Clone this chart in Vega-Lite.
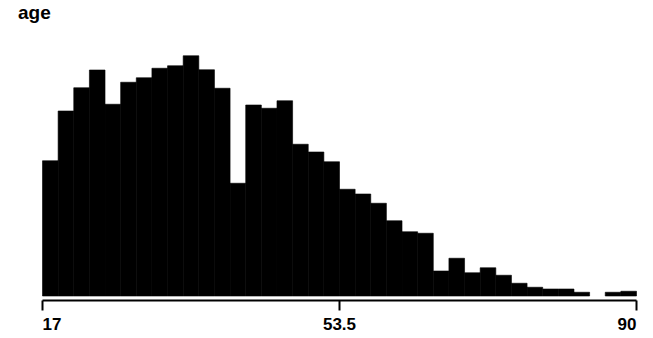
{
  "$schema": "https://vega.github.io/schema/vega-lite/v6.json",
  "autosize": "none",
  "width": 594,
  "height": 250,
  "padding": {"left": 42, "top": 46, "right": 17, "bottom": 42},
  "background": "white",
  "title": {
    "text": "age",
    "anchor": "start",
    "frame": "group",
    "dx": -24,
    "offset": 8,
    "baseline": "alphabetic",
    "font": "Liberation Sans",
    "fontSize": 19,
    "fontWeight": "bold",
    "color": "black"
  },
  "data": {
    "values": [
      {"bin_start": 17, "bin_end": 18.921, "count": 1082},
      {"bin_start": 18.921, "bin_end": 20.842, "count": 1480},
      {"bin_start": 20.842, "bin_end": 22.763, "count": 1666},
      {"bin_start": 22.763, "bin_end": 24.684, "count": 1808},
      {"bin_start": 24.684, "bin_end": 26.605, "count": 1534},
      {"bin_start": 26.605, "bin_end": 28.526, "count": 1710},
      {"bin_start": 28.526, "bin_end": 30.447, "count": 1746},
      {"bin_start": 30.447, "bin_end": 32.368, "count": 1822},
      {"bin_start": 32.368, "bin_end": 34.289, "count": 1842},
      {"bin_start": 34.289, "bin_end": 36.211, "count": 1922},
      {"bin_start": 36.211, "bin_end": 38.132, "count": 1810},
      {"bin_start": 38.132, "bin_end": 40.053, "count": 1662},
      {"bin_start": 40.053, "bin_end": 41.974, "count": 902},
      {"bin_start": 41.974, "bin_end": 43.895, "count": 1528},
      {"bin_start": 43.895, "bin_end": 45.816, "count": 1502},
      {"bin_start": 45.816, "bin_end": 47.737, "count": 1562},
      {"bin_start": 47.737, "bin_end": 49.658, "count": 1214},
      {"bin_start": 49.658, "bin_end": 51.579, "count": 1152},
      {"bin_start": 51.579, "bin_end": 53.5, "count": 1074},
      {"bin_start": 53.5, "bin_end": 55.421, "count": 854},
      {"bin_start": 55.421, "bin_end": 57.342, "count": 816},
      {"bin_start": 57.342, "bin_end": 59.263, "count": 742},
      {"bin_start": 59.263, "bin_end": 61.184, "count": 602},
      {"bin_start": 61.184, "bin_end": 63.105, "count": 514},
      {"bin_start": 63.105, "bin_end": 65.026, "count": 502},
      {"bin_start": 65.026, "bin_end": 66.947, "count": 200},
      {"bin_start": 66.947, "bin_end": 68.868, "count": 302},
      {"bin_start": 68.868, "bin_end": 70.789, "count": 186},
      {"bin_start": 70.789, "bin_end": 72.711, "count": 226},
      {"bin_start": 72.711, "bin_end": 74.632, "count": 166},
      {"bin_start": 74.632, "bin_end": 76.553, "count": 102},
      {"bin_start": 76.553, "bin_end": 78.474, "count": 70},
      {"bin_start": 78.474, "bin_end": 80.395, "count": 56},
      {"bin_start": 80.395, "bin_end": 82.316, "count": 56},
      {"bin_start": 82.316, "bin_end": 84.237, "count": 30},
      {"bin_start": 84.237, "bin_end": 86.158, "count": 0},
      {"bin_start": 86.158, "bin_end": 88.079, "count": 30},
      {"bin_start": 88.079, "bin_end": 90, "count": 38}
    ]
  },
  "mark": {"type": "bar", "color": "black", "stroke": "black", "strokeWidth": 0.6, "binSpacing": 0},
  "encoding": {
    "x": {
      "field": "bin_start",
      "type": "quantitative",
      "bin": "binned",
      "scale": {"domain": [17, 90], "nice": false, "zero": false},
      "axis": {
        "title": null,
        "values": [17, 53.5, 90],
        "labelExpr": "datum.value == 53.5 ? '53.5' : format(datum.value, 'd')",
        "grid": false,
        "offset": 4,
        "domainColor": "black",
        "domainWidth": 2,
        "tickColor": "black",
        "tickWidth": 2,
        "tickSize": 10,
        "labelFont": "Liberation Sans",
        "labelFontSize": 17,
        "labelFontWeight": "bold",
        "labelColor": "black",
        "labelPadding": 6,
        "labelFlush": true
      }
    },
    "x2": {"field": "bin_end"},
    "y": {
      "field": "count",
      "type": "quantitative",
      "scale": {"domain": [0, 2000], "nice": false},
      "axis": null
    },
    "strokeOpacity": {"condition": {"test": "datum.count == 0", "value": 0}, "value": 1}
  },
  "config": {"view": {"stroke": null}}
}
